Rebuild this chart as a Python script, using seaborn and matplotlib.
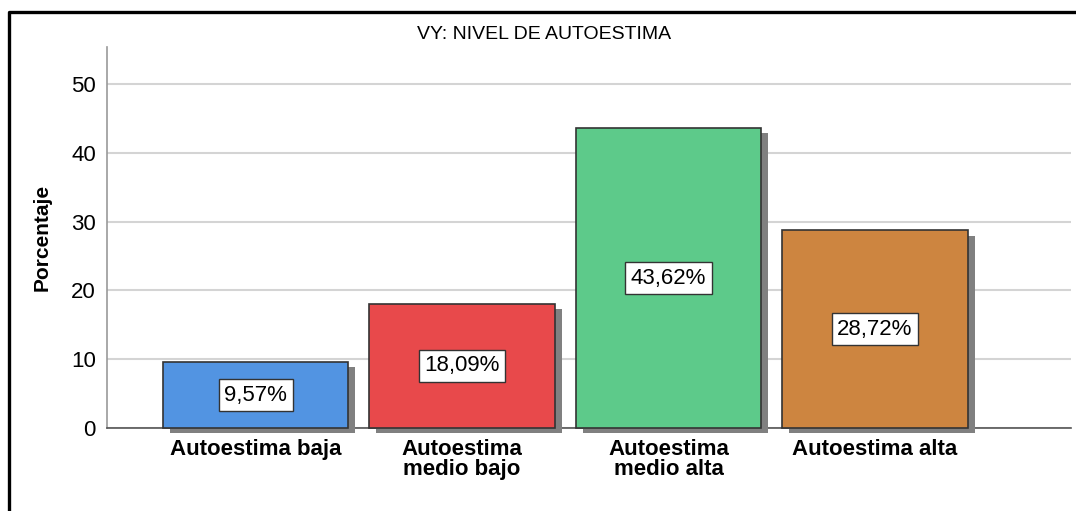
import matplotlib
matplotlib.use("Agg")
import matplotlib.pyplot as plt
import matplotlib.patheffects as pe
from matplotlib.lines import Line2D
import seaborn as sns
import pandas as pd

# Data
categorias = ["Autoestima baja", "Autoestima\nmedio bajo", "Autoestima\nmedio alta", "Autoestima alta"]
porcentajes = [9.57, 18.09, 43.62, 28.72]
colores = ["#5294E2", "#E8494B", "#5DCA8A", "#CD8540"]
y_ticks = [0, 10, 20, 30, 40, 50]

df = pd.DataFrame({"Categoria": categorias, "Porcentaje": porcentajes})

sns.set_theme(style="white")
plt.rcParams["font.family"] = ["Liberation Sans", "DejaVu Sans"]
plt.rcParams["text.color"] = "black"

fig = plt.figure(figsize=(10.76, 5.11), dpi=100)
ax = fig.add_axes([0.0994, 0.1624, 0.896, 0.7456])

sns.barplot(data=df, x="Categoria", y="Porcentaje", hue="Categoria",
            palette=colores, saturation=1, legend=False, width=0.9, ax=ax,
            edgecolor="#333333", linewidth=1.2, zorder=3)

# shadow behind the bars
for bar in ax.patches:
    bar.set_clip_on(False)
    bar.set_path_effects([
        pe.SimplePatchShadow(offset=(5, -3.8), shadow_rgbFace="#808080", alpha=1.0),
        pe.Normal()])

# value labels, one container per hue level
etiquetas = [f"{v:.2f}".replace(".", ",") + "%" for v in porcentajes]
for i, cont in enumerate(ax.containers):
    ax.bar_label(cont, labels=[etiquetas[i]], label_type="center", fontsize=16, color="black",
                 bbox=dict(boxstyle="square,pad=0.25", facecolor="white", edgecolor="#333333", linewidth=1))

ax.set_ylim(0, 55.4)
ax.set_xlim(-0.72, 3.95)
ax.set_yticks(y_ticks)
ax.tick_params(axis="y", labelsize=16, length=0, pad=8, labelcolor="black")
ax.tick_params(axis="x", length=0, pad=8, labelcolor="black")
for lab in ax.get_xticklabels():
    lab.set_fontsize(16)
    lab.set_fontweight("bold")
    lab.set_linespacing(0.95)
    lab.set_verticalalignment("top")

ax.yaxis.grid(True, color="#d4d4d4", linewidth=1.5, zorder=0)
ax.set_axisbelow(True)
ax.set_xlabel("")
ax.set_ylabel("Porcentaje", fontsize=15, fontweight="bold", color="black",
              family=["Liberation Sans Narrow", "Liberation Sans"], labelpad=14)

for s in ["top", "right"]:
    ax.spines[s].set_visible(False)
ax.spines["left"].set_color("#999999")
ax.spines["left"].set_linewidth(1.2)
ax.spines["bottom"].set_color("#555555")
ax.spines["bottom"].set_linewidth(1.2)

fig.text(0.506, 0.933, "VY: NIVEL DE AUTOESTIMA", ha="center", va="center", fontsize=14, color="black")

# outer frame (top and left)
fig.add_artist(Line2D([9 / 1076, 9 / 1076, 1.0], [0.0, 1 - 12 / 511, 1 - 12 / 511],
                      transform=fig.transFigure, color="black", linewidth=2.4))

fig.savefig("out.png", dpi=100, facecolor="white")
